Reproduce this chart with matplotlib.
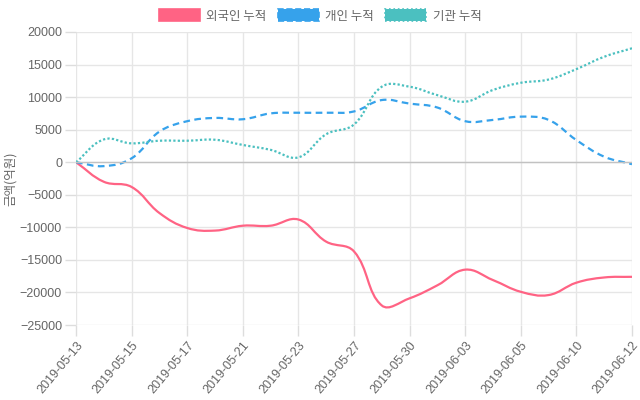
import numpy as np
import matplotlib
matplotlib.use("Agg")
import matplotlib.pyplot as plt
from matplotlib.path import Path
from matplotlib.patches import PathPatch, Patch

plt.rcParams['font.family'] = ['Liberation Sans', 'Noto Sans CJK KR']
KR = ['Noto Sans CJK KR', 'DejaVu Sans']

# trading days (05-29 has no row in the source)
dates = ['2019-05-13', '2019-05-14', '2019-05-15', '2019-05-16', '2019-05-17',
         '2019-05-20', '2019-05-21', '2019-05-22', '2019-05-23', '2019-05-24',
         '2019-05-27', '2019-05-28', '2019-05-30', '2019-05-31', '2019-06-03',
         '2019-06-04', '2019-06-05', '2019-06-07', '2019-06-10', '2019-06-11',
         '2019-06-12']

foreign = [0, -3000, -3800, -7800, -10100, -10500, -9750, -9750, -8800, -12200,
           -13700, -22000, -20900, -18900, -16500, -18100, -19900, -20400,
           -18500, -17700, -17600]
individual = [0, -600, 600, 4700, 6300, 6800, 6600, 7500, 7600, 7600,
              7800, 9550, 9000, 8400, 6300, 6500, 7000, 6500, 3400, 850, -300]
institution = [0, 3500, 2900, 3300, 3300, 3450, 2650, 1900, 750, 4300,
               5800, 11600, 11600, 10300, 9300, 11100, 12200, 12700, 14300,
               16200, 17500]

series = [
    ('외국인 누적', foreign, '#ff6384', '-'),
    ('개인 누적', individual, '#36a2eb', (0, (3, 2))),
    ('기관 누적', institution, '#4bc0c0', (0, (1, 1))),
]

fig = plt.figure(figsize=(6.4, 4.0), dpi=100)
ax = fig.add_axes([76 / 640, 1 - 325 / 400, 556 / 640, 293 / 400])
n = len(dates)
ax.set_xlim(0, n - 1)
ax.set_ylim(-25000, 20000)


def smooth_path(xs, ys, t=0.4):
    # chart.js style bezier (tension 0.4), computed in pixel space
    pts = ax.transData.transform(np.column_stack([xs, ys]))
    verts = [pts[0]]
    codes = [Path.MOVETO]
    ctrl = []
    for i in range(len(pts)):
        prev = pts[max(i - 1, 0)]
        cur = pts[i]
        nxt = pts[min(i + 1, len(pts) - 1)]
        d01 = np.hypot(*(cur - prev))
        d12 = np.hypot(*(nxt - cur))
        tot = d01 + d12
        s01 = d01 / tot if tot else 0
        s12 = d12 / tot if tot else 0
        ctrl.append((cur - t * s01 * (nxt - prev), cur + t * s12 * (nxt - prev)))
    for i in range(1, len(pts)):
        verts += [ctrl[i - 1][1], ctrl[i][0], pts[i]]
        codes += [Path.CURVE4] * 3
    inv = ax.transData.inverted()
    return Path(inv.transform(np.array(verts)), codes)


x = np.arange(n)
for label, vals, color, ls in series:
    p = smooth_path(x, vals)
    ax.add_patch(PathPatch(p, facecolor='none', edgecolor=color, lw=1.6,
                           linestyle=ls, capstyle='butt'))

# axes styling
for s in ax.spines.values():
    s.set_visible(False)
ax.set_yticks(np.arange(-25000, 20001, 5000))
ax.set_xticks(x[::2])
ax.set_xticklabels(dates[::2], rotation=50, ha='right', rotation_mode='anchor')
ax.tick_params(axis='both', colors='#dddddd', labelcolor='#666666',
               labelsize=9, length=8, width=1, pad=2)
ax.grid(True, color='#e6e6e6', lw=1)
ax.axhline(0, color='#c2c2c2', lw=1)
ax.set_axisbelow(True)
fig.text(10 / 640, 1 - 179 / 400, '금액(억원)', rotation=90, ha='center', va='center',
         color='#666666', fontsize=9, family=KR)

handles = [
    Patch(facecolor='#ff6384', edgecolor='#ff6384', lw=1.2),
    Patch(facecolor='#36a2eb', edgecolor='#36a2eb', lw=1.2, linestyle='--'),
    Patch(facecolor='#4bc0c0', edgecolor='#4bc0c0', lw=1.2, linestyle=':'),
]
fig.legend(handles, [s[0] for s in series], loc='center', bbox_to_anchor=(0.5, 1 - 16 / 400),
           ncol=3, frameon=False, labelcolor='#666666',
           prop={'family': KR, 'size': 9},
           handlelength=3.3, handleheight=1.1, handletextpad=0.5, columnspacing=0.9)

fig.savefig('out.png', dpi=100)
